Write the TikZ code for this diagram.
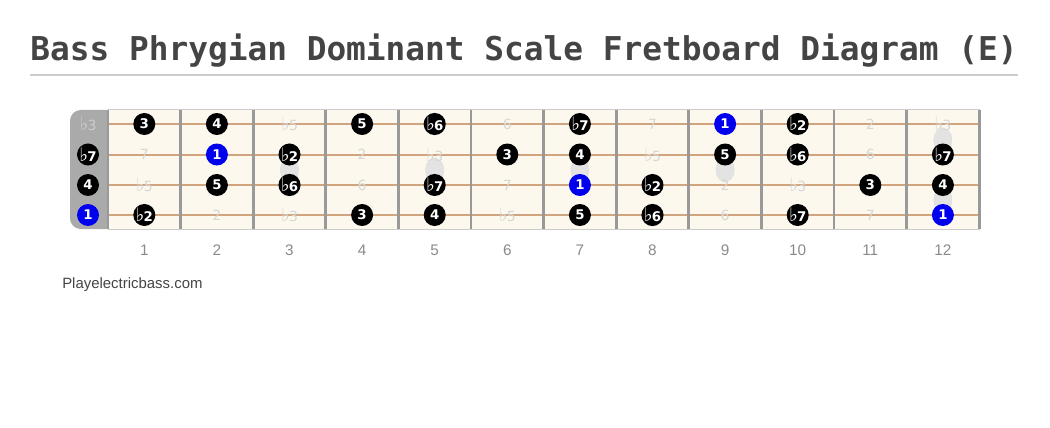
\documentclass[tikz,border=0pt]{standalone}
\usepackage{fontspec}
\setmainfont{Liberation Sans}
\newfontfamily\titlefont{DejaVu Sans Mono}
\newfontfamily\notefont{DejaVu Sans}

\definecolor{titlegray}{HTML}{444444}
\definecolor{rulegray}{HTML}{CCCCCC}
\definecolor{nutgray}{HTML}{AAAAAA}
\definecolor{boardcream}{HTML}{FDF8EE}
\definecolor{fretgray}{HTML}{999999}
\definecolor{stringtan}{HTML}{D0A47E}
\definecolor{inlaygray}{HTML}{E3E3E3}
\definecolor{ghostgray}{HTML}{D6D6D6}
\definecolor{rootblue}{HTML}{0000EE}
\definecolor{numgray}{HTML}{8A8A8A}

\newcommand{\flt}{{\fontsize{14}{14}\selectfont ♭}\kern-0.6pt}

\begin{document}
\begin{tikzpicture}[x=0.75pt, y=-0.75pt,
  scalenote/.style={circle, fill=black, text=white, minimum size=16.5pt, inner sep=0pt,
    font=\notefont\bfseries\fontsize{10}{10}\selectfont},
  rootnote/.style={scalenote, fill=rootblue},
  ghostnote/.style={text=ghostgray, inner sep=0pt, font=\notefont\fontsize{10.5}{10}\selectfont},
  nutghost/.style={ghostnote, text=black!20},
  fretnum/.style={text=numgray, anchor=base, font=\fontsize{11.5}{12}\selectfont}]
  \useasboundingbox (0,0) rectangle (1050,428);

  % title
  \node[anchor=base, text=titlegray, font=\titlefont\bfseries\fontsize{24.6}{28}\selectfont]
    (title) at (524,61) {Bass Phrygian Dominant Scale Fretboard Diagram (E)};
  \draw[rulegray, line width=1.5pt] (30,75) -- (1018,75);

  % nut and board
  \fill[nutgray, rounded corners=8] (70,110) rectangle (120,229);
  \fill[boardcream] (108,110) rectangle (980,229);
  \draw[rulegray, line width=0.75pt] (108,110) -- (980,110) (108,229) -- (980,229);

  % inlays
  \foreach \f/\yy in {3/170,5/170,7/170,9/170,12/140,12/200}
    \filldraw[fill=inlaygray, draw=black!12, rounded corners=8] ({71.7+72.6*\f-9},{\yy-12}) rectangle +(18,24);

  % strings
  \foreach \yy in {124,154.5,185,215}
    \draw[stringtan, line width=1.5pt] (108,\yy) -- (980,\yy);

  % frets
  \foreach \i in {0,...,12}
    \draw[fretgray, line width=2.2pt] ({108+72.6*\i},110) -- ({108+72.6*\i},229);

  % fret numbers
  \foreach \i in {1,...,12}
    \node[fretnum] (fnum-\i) at ({71.7+72.6*\i},255) {\i};

  % notes
  \foreach \s/\yy/\lst in {
    1/124/{nutghost/\flt3,scalenote/3,scalenote/4,ghostnote/\flt5,scalenote/5,scalenote/\flt6,ghostnote/6,scalenote/\flt7,ghostnote/7,rootnote/1,scalenote/\flt2,ghostnote/2,ghostnote/\flt3},
    2/154.5/{scalenote/\flt7,ghostnote/7,rootnote/1,scalenote/\flt2,ghostnote/2,ghostnote/\flt3,scalenote/3,scalenote/4,ghostnote/\flt5,scalenote/5,scalenote/\flt6,ghostnote/6,scalenote/\flt7},
    3/185/{scalenote/4,ghostnote/\flt5,scalenote/5,scalenote/\flt6,ghostnote/6,scalenote/\flt7,ghostnote/7,rootnote/1,scalenote/\flt2,ghostnote/2,ghostnote/\flt3,scalenote/3,scalenote/4},
    4/215/{rootnote/1,scalenote/\flt2,ghostnote/2,ghostnote/\flt3,scalenote/3,scalenote/4,ghostnote/\flt5,scalenote/5,scalenote/\flt6,ghostnote/6,scalenote/\flt7,ghostnote/7,rootnote/1}}
  {
    \foreach \k/\t [count=\n from 0] in \lst {
      \pgfmathsetmacro\xx{ifthenelse(\n==0,88,71.7+72.6*\n)}
      \node[\k] (n-\s-\n) at (\xx,\yy) {\t};
    }
  }

  \node[anchor=west, inner sep=0pt, text=titlegray, font=\fontsize{11.2}{12}\selectfont] (site) at (62,285) {Playelectricbass.com};
\end{tikzpicture}
\end{document}
